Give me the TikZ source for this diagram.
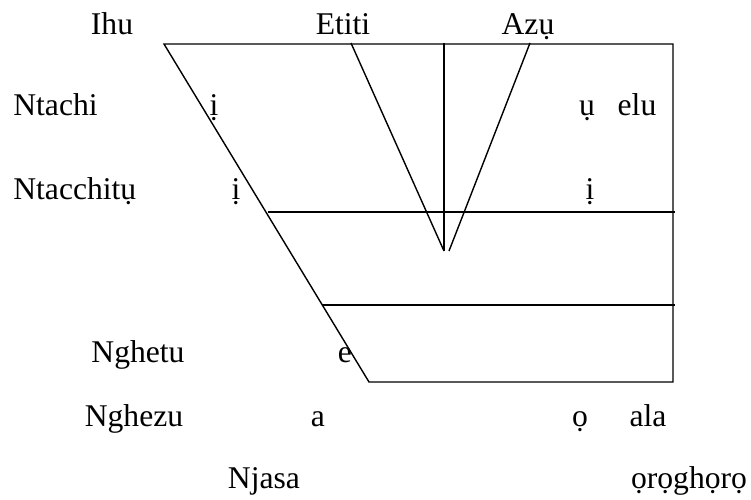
\documentclass[tikz,border=0pt]{standalone}
\usepackage{fontspec}
\setmainfont{Liberation Serif}
\usepackage{tikz}

\begin{document}
\begin{tikzpicture}[
    x=0.02cm, y=-0.02cm,
    lbl/.style={anchor=base, inner sep=0pt, font=\fontsize{18}{20}\selectfont},
    line/.style={line width=0.8pt, black}
]
\useasboundingbox (0,0) rectangle (751,500);
% corners of the chart
\coordinate (tl) at (164,44);
\coordinate (tr) at (673,44);
\coordinate (br) at (673,382);
\coordinate (bl) at (369,382);
\coordinate (midtop) at (444,43);
\coordinate (midbot) at (444,251);
\coordinate (vl) at (351,43);
\coordinate (vr) at (530,43);
\coordinate (vrbot) at (449,251);
\coordinate (hia) at (268,212);
\coordinate (hib) at (675,212);
\coordinate (loa) at (322,305);
\coordinate (lob) at (675,305);
% column heads
\node[lbl] (ihu) at (112,35) {Ihu};
\node[lbl] (etiti) at (343,35) {Etiti};
\node[lbl] (azu) at (528,35) {Azụ};
% row labels
\node[lbl, anchor=base west] (ntachi) at (13,116) {Ntachi};
\node[lbl, anchor=base west] (ntacchitu) at (13,199) {Ntacchitụ};
\node[lbl] (nghetu) at (138,362) {Nghetu};
\node[lbl] (nghezu) at (134,426) {Nghezu};
\node[lbl] (njasa) at (264,488) {Njasa};
% vowels
\node[lbl] (i1) at (214,116) {ị};
\node[lbl] (u1) at (587,116) {ụ};
\node[lbl] (elu) at (637,116) {elu};
\node[lbl] (i2) at (236,199) {ị};
\node[lbl] (i3) at (590,199) {ị};
\node[lbl] (e1) at (345,362) {e};
\node[lbl] (a1) at (318,426) {a};
\node[lbl] (o1) at (580,426) {ọ};
\node[lbl] (ala) at (648,426) {ala};
\node[lbl] (oroghoro) at (689,488) {ọrọghọrọ};
% lines
\draw[line] (tl) -- (tr) -- (br) -- (bl) -- cycle;
\draw[line] (hia) -- (hib);
\draw[line] (loa) -- (lob);
\draw[line] (midtop) -- (midbot);
\draw[line] (vl) -- (midbot);
\draw[line] (vr) -- (vrbot);
\end{tikzpicture}
\end{document}
